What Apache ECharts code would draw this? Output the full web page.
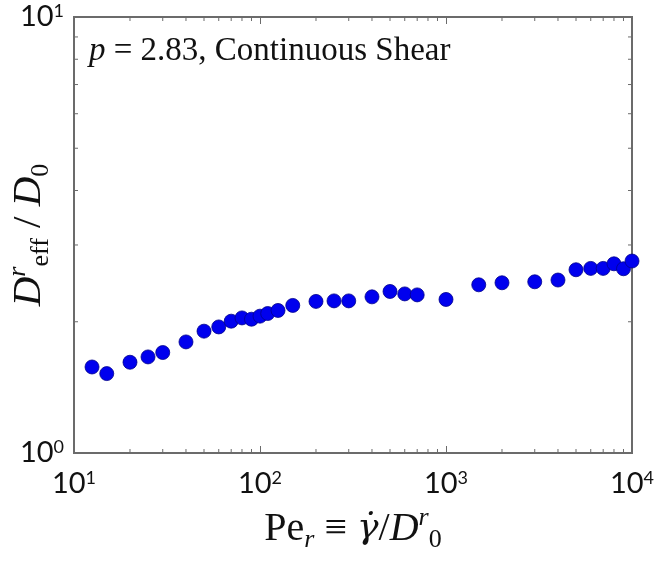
<!DOCTYPE html>
<html>
<head>
<meta charset="utf-8">
<script src="https://cdn.jsdelivr.net/npm/echarts@6/dist/echarts.min.js"></script>
<style>
  html, body { margin: 0; padding: 0; background: #fff; }
  #chart { width: 662px; height: 565px; }
</style>
</head>
<body>
<div id="chart"></div>
<script>
// Pe_r values (x) and D_eff^r / D_0 (y)
const peR = [12.5, 15, 20, 25, 30, 40, 50, 60, 70, 80, 90, 100, 110, 125, 150,
  200, 250, 300, 400, 500, 600, 700, 1000, 1500, 2000, 3000, 4000, 5000, 6000,
  7000, 8000, 9000, 10000]
const dEff = [1.575, 1.521, 1.615, 1.661, 1.70, 1.798, 1.903, 1.946, 2.006, 2.041,
  2.027, 2.06, 2.089, 2.123, 2.18, 2.227, 2.233, 2.233, 2.281, 2.347, 2.317, 2.305,
  2.25, 2.431, 2.457, 2.47, 2.493, 2.632, 2.651, 2.651, 2.716, 2.646, 2.756]

const xRange = [10, 10000]
const yRange = [1, 10]
const xDecades = [10, 100, 1000]
const yDecades = [1]
const minorSteps = [2, 3, 4, 5, 6, 7, 8, 9]

const axisColor = '#6b6b6b'
const sansFont = 'Lato, "Liberation Sans", sans-serif'
const serifFont = '"Liberation Serif", "DejaVu Serif", serif'

const powLabel = (v) => '{b|10}{s|' + Math.round(Math.log10(v)) + '}'
const powRich = {
  b: { fontFamily: sansFont, fontSize: 29, color: '#111', lineHeight: 30 },
  s: { fontFamily: sansFont, fontSize: 18, color: '#111', verticalAlign: 'top', lineHeight: 30 },
}

const mathRich = (size, sub) => ({
  r: { fontFamily: serifFont, fontSize: size, color: '#111' },
  i: { fontFamily: serifFont, fontSize: size, fontStyle: 'italic', color: '#111' },
  g: { fontFamily: '"DejaVu Serif", serif', fontSize: size - 4, fontStyle: 'italic', color: '#111' },
  ss: { fontFamily: serifFont, fontSize: sub, fontStyle: 'italic', color: '#111', verticalAlign: 'top', lineHeight: size + 8 },
  si: { fontFamily: serifFont, fontSize: sub, color: '#111', verticalAlign: 'bottom', lineHeight: size + 8 },
  sii: { fontFamily: serifFont, fontSize: sub, fontStyle: 'italic', color: '#111', verticalAlign: 'bottom', lineHeight: size + 8 },
})

const chart = echarts.init(document.getElementById('chart'))

const option = {
  backgroundColor: '#fff',
  animation: false,
  grid: {
    left: 74, right: 30, top: 17, bottom: 112,
    outerBoundsMode: 'none', containLabel: false,
    show: true, borderColor: axisColor, borderWidth: 2, backgroundColor: 'transparent',
  },
  title: {
    left: 84, top: 30,
    text: '{i|p} = 2.83, Continuous Shear',
    textStyle: {
      fontFamily: serifFont, fontSize: 33, fontWeight: 'normal', color: '#111',
      rich: { i: { fontFamily: serifFont, fontSize: 33, fontStyle: 'italic', color: '#111' } },
    },
  },
  xAxis: [
    {
      type: 'log', logBase: 10, min: xRange[0], max: xRange[1],
      axisLine: { show: false },
      axisTick: { inside: true, length: 7, lineStyle: { color: axisColor, width: 1 } },
      splitLine: { show: false },
      axisLabel: { margin: 16, formatter: powLabel, rich: powRich },
      name: '{r|Pe}{sii|r}{r| ≡ }{g|γ̇}{r|/}{i|D}{ss|r}{si|0}',
      nameLocation: 'middle', nameGap: 52, nameMoveOverlap: false,
      nameTextStyle: { rich: mathRich(40, 26) },
    },
    {
      type: 'log', logBase: 10, min: xRange[0], max: xRange[1], position: 'top',
      axisLine: { show: false },
      axisTick: { inside: true, length: 7, lineStyle: { color: axisColor, width: 1 } },
      axisLabel: { show: false }, splitLine: { show: false },
    },
  ],
  yAxis: [
    {
      type: 'log', logBase: 10, min: yRange[0], max: yRange[1],
      axisLine: { show: false },
      axisTick: { show: false },
      splitLine: { show: false },
      axisLabel: { margin: 10, formatter: powLabel, rich: powRich },
      name: '{i|D}{ss|r}{si|eff}{r| / }{i|D}{si|0}',
      nameLocation: 'middle', nameRotate: 90, nameGap: 20, nameMoveOverlap: false,
      nameTextStyle: { rich: mathRich(41, 26) },
    },
  ],
  series: [
    {
      type: 'scatter',
      data: peR.map((x, i) => [x, dEff[i]]),
      symbol: 'circle',
      symbolSize: 14,
      itemStyle: { color: '#0000ee', borderColor: '#00008b', borderWidth: 0.8, opacity: 1 },
    },
  ],
}

chart.setOption(option)

// log-spaced minor ticks, drawn inward on all four sides
function minorTicks() {
  const x0 = chart.convertToPixel({ xAxisIndex: 0 }, xRange[0])
  const x1 = chart.convertToPixel({ xAxisIndex: 0 }, xRange[1])
  const yb = chart.convertToPixel({ yAxisIndex: 0 }, yRange[0])
  const yt = chart.convertToPixel({ yAxisIndex: 0 }, yRange[1])
  const len = 4
  const style = { stroke: axisColor, lineWidth: 1 }
  const out = []
  xDecades.forEach(d => minorSteps.forEach(k => {
    const px = chart.convertToPixel({ xAxisIndex: 0 }, d * k)
    out.push({ type: 'line', shape: { x1: px, y1: yb, x2: px, y2: yb - len }, style })
    out.push({ type: 'line', shape: { x1: px, y1: yt, x2: px, y2: yt + len }, style })
  }))
  yDecades.forEach(d => minorSteps.forEach(k => {
    const py = chart.convertToPixel({ yAxisIndex: 0 }, d * k)
    out.push({ type: 'line', shape: { x1: x0, y1: py, x2: x0 + len, y2: py }, style })
    out.push({ type: 'line', shape: { x1: x1, y1: py, x2: x1 - len, y2: py }, style })
  }))
  return out
}

chart.setOption({ graphic: minorTicks() })
</script>
</body>
</html>
